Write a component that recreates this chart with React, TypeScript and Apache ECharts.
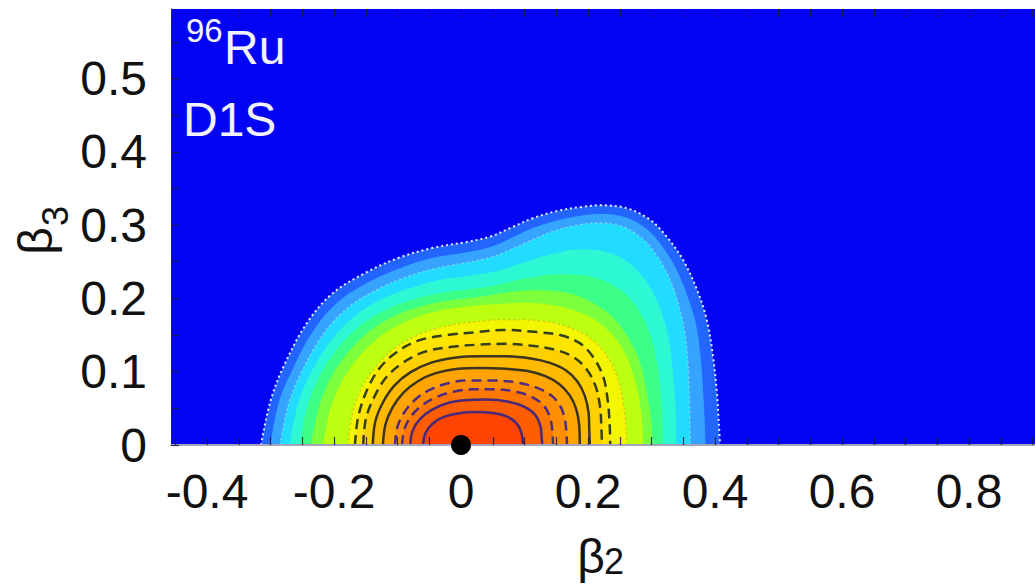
import React, { useEffect, useRef } from "react";
import * as echarts from "echarts";

// Axis ranges (beta2 horizontal, beta3 vertical)
const X_MIN = -0.4567;
const X_MAX = 0.9039;
const Y_MIN = 0;
const Y_MAX = 0.5948;

const X_LABELS = [-0.4, -0.2, 0, 0.2, 0.4, 0.6, 0.8];
const X_TICKS = [-0.45, -0.4, -0.35, -0.3, -0.25, -0.2, -0.15, -0.1, -0.05, 0, 0.05, 0.1, 0.15, 0.2, 0.25, 0.3, 0.35, 0.4, 0.45, 0.5, 0.55, 0.6, 0.65, 0.7, 0.75, 0.8, 0.85, 0.9];
const Y_LABELS = [0, 0.1, 0.2, 0.3, 0.4, 0.5];
const Y_TICKS = [0, 0.05, 0.1, 0.15, 0.2, 0.25, 0.3, 0.35, 0.4, 0.45, 0.5, 0.55];

// Ground-state minimum
const MINIMUM = [[0, 0]];

// Contour curves [beta2, beta3], outermost first
const B0 = [[-0.315, 0], [-0.300, 0.060], [-0.280, 0.106], [-0.243, 0.166], [-0.202, 0.207], [-0.148, 0.236], [-0.096, 0.256], [-0.044, 0.269], [0.009, 0.277], [0.045, 0.284], [0.080, 0.297], [0.112, 0.309], [0.150, 0.319], [0.192, 0.325], [0.219, 0.327], [0.261, 0.323], [0.298, 0.307], [0.324, 0.284], [0.350, 0.252], [0.372, 0.211], [0.387, 0.171], [0.397, 0.120], [0.403, 0.071], [0.406, 0.030], [0.408, 0]];
const B05 = [[-0.300, 0], [-0.287, 0.058], [-0.266, 0.102], [-0.231, 0.158], [-0.191, 0.197], [-0.139, 0.225], [-0.088, 0.244], [-0.040, 0.256], [0.010, 0.263], [0.046, 0.270], [0.081, 0.283], [0.113, 0.296], [0.150, 0.306], [0.191, 0.313], [0.219, 0.315], [0.258, 0.311], [0.292, 0.295], [0.316, 0.272], [0.339, 0.240], [0.358, 0.200], [0.371, 0.161], [0.378, 0.113], [0.382, 0.063], [0.384, 0.028], [0.385, 0]];
const B1 = [[-0.285, 0], [-0.272, 0.055], [-0.252, 0.098], [-0.218, 0.150], [-0.180, 0.186], [-0.130, 0.213], [-0.080, 0.231], [-0.035, 0.242], [0.010, 0.249], [0.047, 0.256], [0.082, 0.268], [0.115, 0.281], [0.150, 0.293], [0.190, 0.301], [0.219, 0.303], [0.255, 0.298], [0.285, 0.282], [0.308, 0.259], [0.328, 0.228], [0.343, 0.190], [0.353, 0.150], [0.358, 0.105], [0.360, 0.055], [0.361, 0]];
const B15 = [[-0.270, 0], [-0.258, 0.052], [-0.239, 0.094], [-0.207, 0.140], [-0.170, 0.174], [-0.123, 0.200], [-0.073, 0.216], [-0.028, 0.226], [0.015, 0.231], [0.055, 0.237], [0.095, 0.248], [0.145, 0.261], [0.190, 0.267], [0.220, 0.265], [0.253, 0.255], [0.280, 0.236], [0.301, 0.210], [0.317, 0.178], [0.328, 0.140], [0.334, 0.095], [0.338, 0.048], [0.339, 0]];
const B2 = [[-0.254, 0], [-0.243, 0.050], [-0.225, 0.090], [-0.196, 0.130], [-0.160, 0.162], [-0.115, 0.186], [-0.065, 0.201], [-0.020, 0.209], [0.020, 0.213], [0.060, 0.219], [0.100, 0.227], [0.150, 0.233], [0.190, 0.232], [0.220, 0.226], [0.250, 0.212], [0.275, 0.190], [0.294, 0.160], [0.306, 0.125], [0.313, 0.085], [0.317, 0.040], [0.318, 0]];
const B25 = [[-0.236, 0], [-0.225, 0.048], [-0.208, 0.087], [-0.181, 0.123], [-0.146, 0.154], [-0.103, 0.177], [-0.055, 0.191], [-0.010, 0.198], [0.035, 0.203], [0.080, 0.209], [0.125, 0.211], [0.170, 0.207], [0.205, 0.195], [0.238, 0.175], [0.262, 0.148], [0.282, 0.112], [0.293, 0.070], [0.300, 0.030], [0.302, 0]];
const B3 = [[-0.217, 0], [-0.207, 0.045], [-0.190, 0.083], [-0.165, 0.116], [-0.132, 0.145], [-0.090, 0.167], [-0.045, 0.181], [0.000, 0.188], [0.050, 0.192], [0.100, 0.194], [0.150, 0.190], [0.190, 0.180], [0.225, 0.162], [0.252, 0.135], [0.270, 0.100], [0.281, 0.060], [0.286, 0.025], [0.287, 0]];
const B4 = [[-0.178, 0], [-0.172, 0.040], [-0.158, 0.075], [-0.136, 0.105], [-0.106, 0.131], [-0.068, 0.150], [-0.025, 0.162], [0.020, 0.168], [0.070, 0.171], [0.120, 0.170], [0.165, 0.162], [0.200, 0.148], [0.227, 0.125], [0.245, 0.095], [0.255, 0.060], [0.260, 0.025], [0.261, 0]];
const C1 = [[-0.167, 0], [-0.162, 0.038], [-0.148, 0.075], [-0.128, 0.105], [-0.101, 0.127], [-0.065, 0.143], [-0.022, 0.150], [0.025, 0.154], [0.066, 0.157], [0.120, 0.154], [0.156, 0.150], [0.187, 0.139], [0.208, 0.120], [0.224, 0.093], [0.231, 0.061], [0.234, 0.030], [0.235, 0]];
const C2 = [[-0.154, 0], [-0.150, 0.035], [-0.137, 0.065], [-0.118, 0.092], [-0.092, 0.112], [-0.058, 0.127], [-0.015, 0.134], [0.030, 0.137], [0.070, 0.138], [0.115, 0.135], [0.148, 0.130], [0.177, 0.120], [0.198, 0.103], [0.212, 0.080], [0.219, 0.052], [0.221, 0.025], [0.222, 0]];
const C3 = [[-0.139, 0], [-0.135, 0.032], [-0.123, 0.058], [-0.105, 0.081], [-0.080, 0.099], [-0.048, 0.112], [-0.010, 0.119], [0.030, 0.121], [0.070, 0.121], [0.110, 0.118], [0.140, 0.112], [0.165, 0.102], [0.183, 0.087], [0.195, 0.067], [0.201, 0.043], [0.202, 0.020], [0.203, 0]];
const C4 = [[-0.123, 0], [-0.119, 0.028], [-0.108, 0.051], [-0.091, 0.071], [-0.068, 0.087], [-0.040, 0.098], [-0.005, 0.104], [0.030, 0.105], [0.070, 0.104], [0.105, 0.101], [0.133, 0.094], [0.155, 0.083], [0.171, 0.068], [0.181, 0.050], [0.186, 0.028], [0.187, 0]];
const C5 = [[-0.104, 0], [-0.100, 0.025], [-0.089, 0.045], [-0.072, 0.062], [-0.050, 0.075], [-0.022, 0.084], [0.010, 0.088], [0.050, 0.088], [0.090, 0.085], [0.120, 0.078], [0.143, 0.067], [0.157, 0.052], [0.164, 0.033], [0.166, 0.015], [0.167, 0]];
const C6 = [[-0.093, 0], [-0.089, 0.022], [-0.078, 0.040], [-0.060, 0.055], [-0.037, 0.066], [-0.010, 0.073], [0.020, 0.076], [0.055, 0.076], [0.090, 0.072], [0.115, 0.064], [0.132, 0.052], [0.141, 0.035], [0.144, 0.017], [0.145, 0]];
const C7 = [[-0.080, 0], [-0.076, 0.020], [-0.064, 0.036], [-0.046, 0.048], [-0.022, 0.057], [0.005, 0.061], [0.040, 0.062], [0.075, 0.059], [0.100, 0.052], [0.117, 0.041], [0.125, 0.026], [0.127, 0.010], [0.128, 0]];
const C8 = [[-0.060, 0], [-0.056, 0.016], [-0.045, 0.029], [-0.028, 0.038], [-0.005, 0.043], [0.020, 0.045], [0.048, 0.044], [0.072, 0.039], [0.088, 0.029], [0.095, 0.017], [0.097, 0.006], [0.098, 0]];

const CURVES = [B0, B05, B1, B15, B2, B25, B3, B4, C1, C2, C3, C4, C5, C6, C7, C8];

const FILLS = ["#2266ff", "#36a4ff", "#22dcff", "#2cf8d4", "#3cff88", "#7cff3c", "#bcff10", "#f2f600", "#ffe400", "#ffd000", "#ffba00", "#ffa400", "#ff8e00", "#ff7600", "#ff5e00", "#ff4400"];

const DASH = [10, 6];
const DOT = [2, 3];
const NONE = { width: 0, opacity: 0 };
const LINE_STYLES: any[] = [
  { color: "#ececff", width: 2, type: DOT },
  NONE,
  { color: "#c8daf4", width: 1.5, type: DOT, opacity: 0.55 },
  NONE,
  NONE,
  NONE,
  NONE,
  { color: "#d89030", width: 1.5, type: DOT, opacity: 0.5 },
  { color: "#34401c", width: 2.5, type: DASH },
  { color: "#34401c", width: 2.5, type: DASH },
  { color: "#3a3420", width: 2.5, type: "solid" },
  { color: "#3a3420", width: 2.5, type: "solid" },
  { color: "#4e2c80", width: 2.5, type: DASH },
  { color: "#4e2c80", width: 2.5, type: DASH },
  { color: "#48287a", width: 2.5, type: "solid" },
  { color: "#48287a", width: 2.5, type: "solid" },
];

const FONT = "'Liberation Sans', Arial, Helvetica, sans-serif";

export default function App() {
  const ref = useRef<HTMLDivElement>(null);
  useEffect(() => {
    if (!ref.current) return;
    const chart = echarts.init(ref.current, undefined, { renderer: "svg" });
    const tickStyle = { color: "rgba(24,24,64,0.85)", width: 1.2 };
    const contourSeries = CURVES.map((d, i) => ({
      type: "line",
      data: d,
      smooth: 0.35,
      showSymbol: false,
      symbol: "none",
      silent: true,
      clip: true,
      lineStyle: LINE_STYLES[i],
      areaStyle: { color: FILLS[i], opacity: 1 },
      emphasis: { disabled: true },
      z: 1,
    }));
    const txt = (text: string, x: number, y: number, size: number, fill: string, align: string, rotation = 0) => ({
      type: "text",
      x,
      y,
      rotation,
      z: 100,
      style: { text, fontSize: size, fontFamily: FONT, fill, align, verticalAlign: "middle", textAlign: align, textVerticalAlign: "middle" },
    });
    const option: any = {
      animation: false,
      grid: {
        left: 171,
        top: 9,
        right: 0,
        bottom: 143,
        show: true,
        backgroundColor: "#0404f4",
        borderWidth: 0,
        z: 0,
      },
      xAxis: [
        {
          type: "value",
          gridIndex: 0,
          min: X_MIN,
          max: X_MAX,
          position: "bottom",
          z: 30,
          axisLine: { show: true, onZero: false, lineStyle: { color: "#a4a4b8", width: 2 } },
          axisTick: { show: true, inside: true, length: 8, customValues: X_TICKS, lineStyle: tickStyle },
          axisLabel: {
            customValues: X_LABELS,
            margin: 22,
            fontSize: 48,
            fontFamily: FONT,
            color: "#111",
            formatter: (v: number) => String(v),
          },
          splitLine: { show: false },
        },
        {
          type: "value",
          gridIndex: 0,
          min: X_MIN,
          max: X_MAX,
          position: "top",
          z: 30,
          axisLine: { show: false, onZero: false },
          axisTick: { show: true, inside: true, length: 8, customValues: X_TICKS, lineStyle: tickStyle },
          axisLabel: { show: false },
          splitLine: { show: false },
        },
      ],
      yAxis: {
        type: "value",
        min: Y_MIN,
        max: Y_MAX,
        z: 30,
        axisLine: { show: true, onZero: false, lineStyle: { color: "#1a1a90", width: 1 } },
        axisTick: { show: true, inside: true, length: 8, customValues: Y_TICKS, lineStyle: tickStyle },
        axisLabel: {
          customValues: Y_LABELS,
          margin: 24,
          fontSize: 48,
          fontFamily: FONT,
          color: "#111",
          formatter: (v: number) => String(v),
        },
        splitLine: { show: false },
      },
      series: [
        ...contourSeries,
        {
          type: "scatter",
          data: MINIMUM,
          symbol: "circle",
          symbolSize: 20,
          itemStyle: { color: "#000", opacity: 1 },
          clip: false,
          silent: true,
          z: 40,
        },
      ],
      graphic: [
        txt("96", 186, 30, 33, "#f2f2ff", "left"),
        txt("Ru", 224, 47, 48, "#f2f2ff", "left"),
        txt("D1S", 183, 119, 48, "#f2f2ff", "left"),
        txt("β", 591, 556, 48, "#111", "center"),
        txt("2", 614, 561, 36, "#111", "center"),
        txt("β", 35, 241, 48, "#111", "center", Math.PI / 2),
        txt("3", 55, 216, 36, "#111", "center", Math.PI / 2),
      ],
    };
    chart.setOption(option);
    return () => chart.dispose();
  }, []);
  return (
    <div
      ref={ref}
      style={{ position: "absolute", left: 0, top: 0, width: 1035, height: 588, background: "#fff" }}
    />
  );
}
